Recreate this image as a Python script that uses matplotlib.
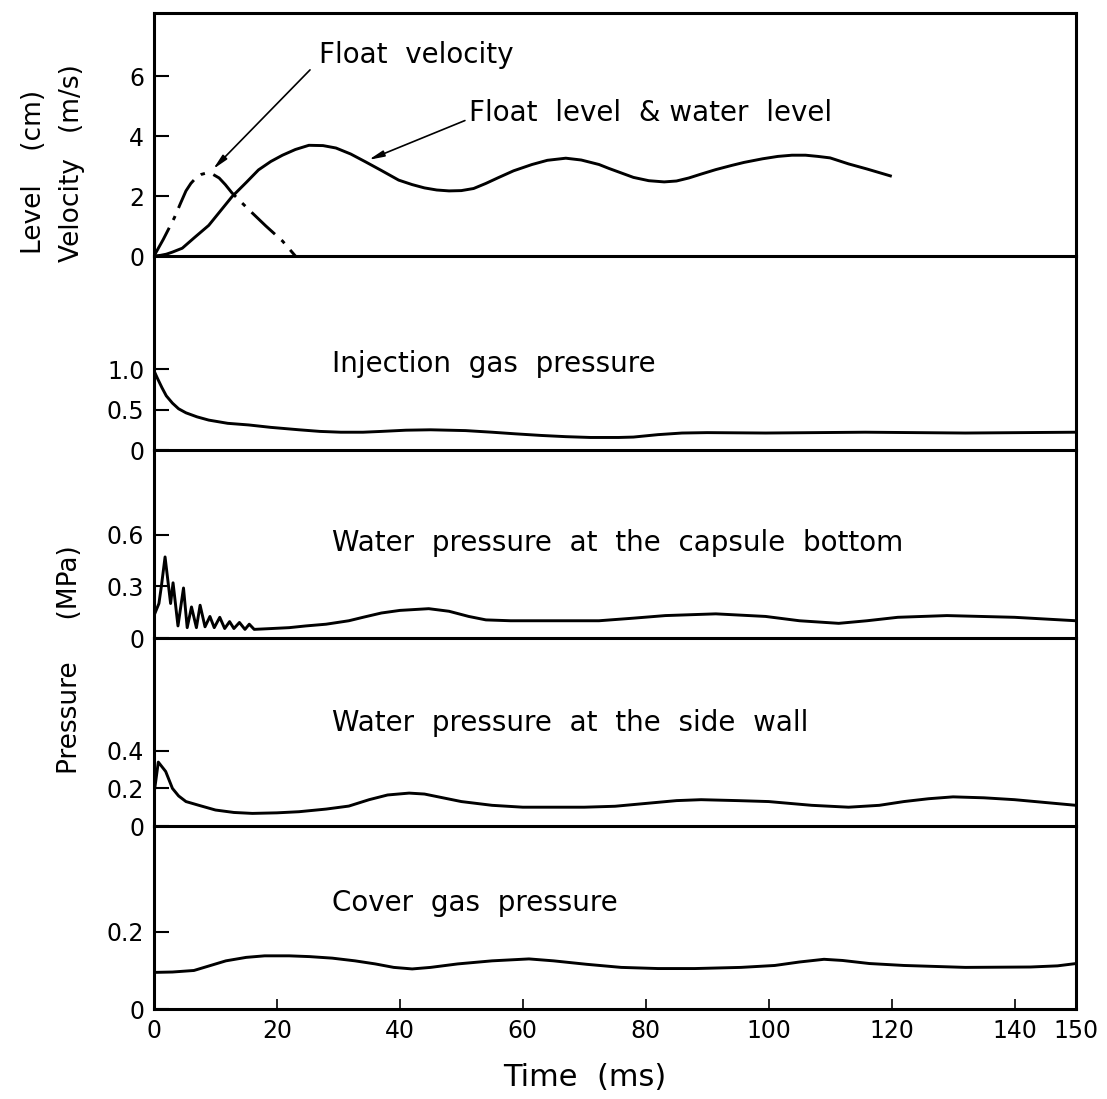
import matplotlib
matplotlib.use("Agg")
import matplotlib.pyplot as plt

# ---------------- data ----------------
t_level = [0, 1, 2, 3, 4.6, 6.5, 8.9, 10.8, 12.7, 15, 17, 19, 20.9, 23, 25.2, 27.5, 29.6, 32,
           34.4, 37, 39.8, 42, 44, 46, 48, 50, 52, 54, 56, 58.5, 61.5, 64, 67, 69.5, 72.4, 74,
           75.6, 78, 80.5, 83, 85, 87, 89, 91.4, 94, 96, 99, 101.5, 103.8, 106, 108, 110, 113,
           116, 119.8]
level = [0, 0.02, 0.06, 0.13, 0.26, 0.6, 1.02, 1.5, 1.98, 2.45, 2.87, 3.15, 3.36, 3.55, 3.69,
         3.68, 3.6, 3.4, 3.14, 2.85, 2.53, 2.38, 2.27, 2.2, 2.17, 2.18, 2.25, 2.42, 2.61, 2.84,
         3.05, 3.19, 3.26, 3.2, 3.05, 2.92, 2.8, 2.62, 2.51, 2.47, 2.5, 2.6, 2.73, 2.88, 3.02,
         3.12, 3.24, 3.32, 3.36, 3.36, 3.32, 3.27, 3.07, 2.9, 2.67]

t_vel = [0, 1.5, 3.3, 4.3, 5.2, 6, 6.8, 7.7, 8.6, 9.6, 10.6, 11.6, 12.7, 15.4, 18.2, 20.9, 23]
velocity = [0, 0.55, 1.27, 1.75, 2.17, 2.42, 2.6, 2.72, 2.77, 2.72, 2.6, 2.38, 2.1, 1.55, 1.0,
            0.5, 0]

t_inj = [0, 0.6, 1.3, 2, 3, 4, 5.2, 7, 8.9, 12, 15.4, 19, 23.6, 27, 30.4, 34, 37, 41, 45, 50.7,
         55, 58.8, 63, 67, 71, 75.6, 78, 82, 85.9, 90, 99.5, 115.7, 132, 150]
inj = [0.98, 0.88, 0.77, 0.67, 0.58, 0.51, 0.46, 0.41, 0.37, 0.33, 0.31, 0.28, 0.25, 0.23, 0.22,
       0.22, 0.23, 0.245, 0.25, 0.24, 0.22, 0.2, 0.18, 0.165, 0.155, 0.155, 0.16, 0.19, 0.21,
       0.215, 0.21, 0.22, 0.21, 0.22]

t_cap = [0, 0.8, 1.2, 1.8, 2.7, 3.1, 3.9, 4.8, 5.4, 6.1, 6.9, 7.5, 8.3, 9.1, 9.8, 10.7, 11.5,
         12.3, 13, 13.9, 14.8, 15.5, 16.3, 19.2, 22, 24.7, 28, 31.7, 34, 37, 40, 44.7, 48, 51.2,
         54, 58, 64, 72.4, 78, 83.2, 91.4, 99.5, 105, 111.4, 116, 121, 129, 140, 150]
cap = [0.13, 0.2, 0.3, 0.47, 0.2, 0.32, 0.07, 0.29, 0.06, 0.18, 0.06, 0.19, 0.065, 0.125, 0.06,
       0.12, 0.055, 0.095, 0.055, 0.09, 0.05, 0.08, 0.05, 0.055, 0.06, 0.07, 0.08, 0.1, 0.12,
       0.145, 0.16, 0.17, 0.155, 0.125, 0.105, 0.1, 0.1, 0.1, 0.115, 0.13, 0.14, 0.125, 0.1,
       0.085, 0.1, 0.12, 0.13, 0.12, 0.1]

t_side = [0, 0.7, 1.9, 3, 4, 5.2, 7.3, 10, 13, 16, 20, 23.6, 28, 31.7, 35, 38, 41.5, 44, 47, 50,
          55, 60, 70, 75, 80, 85, 89, 95, 100, 107, 113, 118, 122, 126, 130, 135, 140, 145, 150]
side = [0.17, 0.34, 0.29, 0.2, 0.16, 0.13, 0.11, 0.085, 0.072, 0.067, 0.07, 0.076, 0.09, 0.106,
        0.14, 0.165, 0.175, 0.17, 0.15, 0.13, 0.11, 0.1, 0.1, 0.105, 0.12, 0.135, 0.14, 0.135,
        0.13, 0.11, 0.1, 0.11, 0.13, 0.145, 0.155, 0.15, 0.14, 0.125, 0.11]

t_cover = [0, 3, 6.5, 9, 11.7, 15, 18, 22, 25.3, 29, 32.7, 36, 39, 42, 45, 49.4, 55, 61, 65,
           70.4, 76, 82, 88, 95.5, 101, 105, 109, 112, 116.4, 122, 132, 142.6, 147, 150]
cover = [0.095, 0.096, 0.1, 0.112, 0.125, 0.134, 0.138, 0.138, 0.136, 0.132, 0.125, 0.117,
         0.108, 0.104, 0.108, 0.117, 0.125, 0.13, 0.125, 0.116, 0.108, 0.105, 0.105, 0.108,
         0.113, 0.122, 0.129, 0.126, 0.118, 0.113, 0.108, 0.109, 0.112, 0.118]

x_ticks = [0, 20, 40, 60, 80, 100, 120, 140, 150]
panel_yticks = [[0, 2, 4, 6], [0, 0.5, 1.0], [0, 0.3, 0.6], [0, 0.2, 0.4], [0, 0.2]]
panel_yticklabels = [["0", "2", "4", "6"], ["0", "0.5", "1.0"], ["0", "0.3", "0.6"],
                     ["0", "0.2", "0.4"], ["0", "0.2"]]
panel_titles = [None, "Injection  gas  pressure", "Water  pressure  at  the  capsule  bottom",
                "Water  pressure  at  the  side  wall", "Cover  gas  pressure"]

# ---------------- layout ----------------
W, H = 1107, 1099
fig = plt.figure(figsize=(W / 100, H / 100), dpi=100)
plt.rcParams['font.family'] = ['DejaVu Sans']
heights = [243, 194, 188, 188, 183]
ymax = [8.1, 2.4, 1.09, 1.0, 0.475]
title_y = [None, 1.06, 0.55, 0.55, 0.275]
gs = fig.add_gridspec(5, 1, height_ratios=heights, hspace=0,
                      left=154 / W, right=1076 / W, top=1 - 13 / H, bottom=1 - 1009 / H)
axes = [fig.add_subplot(gs[i]) for i in range(5)]

LW = 2.1
TFS = 20
for i, ax in enumerate(axes):
    ax.patch.set_visible(False)
    ax.set_zorder(10 - i)
    ax.set_xlim(0, 150)
    ax.set_ylim(0, ymax[i])
    for s in ax.spines.values():
        s.set_linewidth(2.2)
        s.set_zorder(5)
    if i > 0:
        ax.spines['top'].set_visible(False)
    ax.set_yticks(panel_yticks[i])
    ax.set_yticklabels(panel_yticklabels[i])
    ax.tick_params(axis='y', direction='in', length=11, width=1.5, labelsize=17, pad=7,
                   right=False)
    if i < 4:
        ax.tick_params(axis='x', bottom=False, labelbottom=False)
    else:
        ax.set_xticks(x_ticks)
        ax.set_xticklabels([str(v) for v in x_ticks])
        ax.tick_params(axis='x', direction='in', length=7, width=1.2, labelsize=17, pad=7)
    if panel_titles[i]:
        ax.text(29, title_y[i], panel_titles[i], fontsize=TFS, ha='left', va='center')

# ---------------- curves ----------------
ax1 = axes[0]
ax1.plot(t_level, level, color='black', lw=LW)
ax1.plot(t_vel, velocity, color='black', lw=LW, linestyle=(0, (11, 3, 1.5, 3)))
ax1.annotate("", xy=(9.3, 2.83), xytext=(25.7, 6.27),
             arrowprops=dict(arrowstyle='-|>,head_length=0.9,head_width=0.18', color='black', lw=1.2))
ax1.text(26.8, 6.7, "Float  velocity", fontsize=TFS, ha='left', va='center')
ax1.annotate("", xy=(34.5, 3.17), xytext=(51.0, 4.55),
             arrowprops=dict(arrowstyle='-|>,head_length=0.9,head_width=0.18', color='black', lw=1.2))
ax1.text(51.2, 4.77, "Float  level  & water  level", fontsize=TFS, ha='left', va='center')

axes[1].plot(t_inj, inj, color='black', lw=LW)
axes[2].plot(t_cap, cap, color='black', lw=LW)
axes[3].plot(t_side, side, color='black', lw=LW)
axes[4].plot(t_cover, cover, color='black', lw=LW)

# ---------------- axis labels ----------------
fig.text(34 / W, 1 - 172 / H, "Level    (cm)", rotation=90, fontsize=19, ha='center', va='center')
fig.text(72 / W, 1 - 163 / H, "Velocity   (m/s)", rotation=90, fontsize=19, ha='center', va='center')
fig.text(70 / W, 1 - 660 / H, "Pressure     (MPa)", rotation=90, fontsize=19, ha='center', va='center')
fig.text(585 / W, 1 - 1078 / H, "Time  (ms)", fontsize=22, ha='center', va='center')

fig.savefig("out.png", dpi=100)
